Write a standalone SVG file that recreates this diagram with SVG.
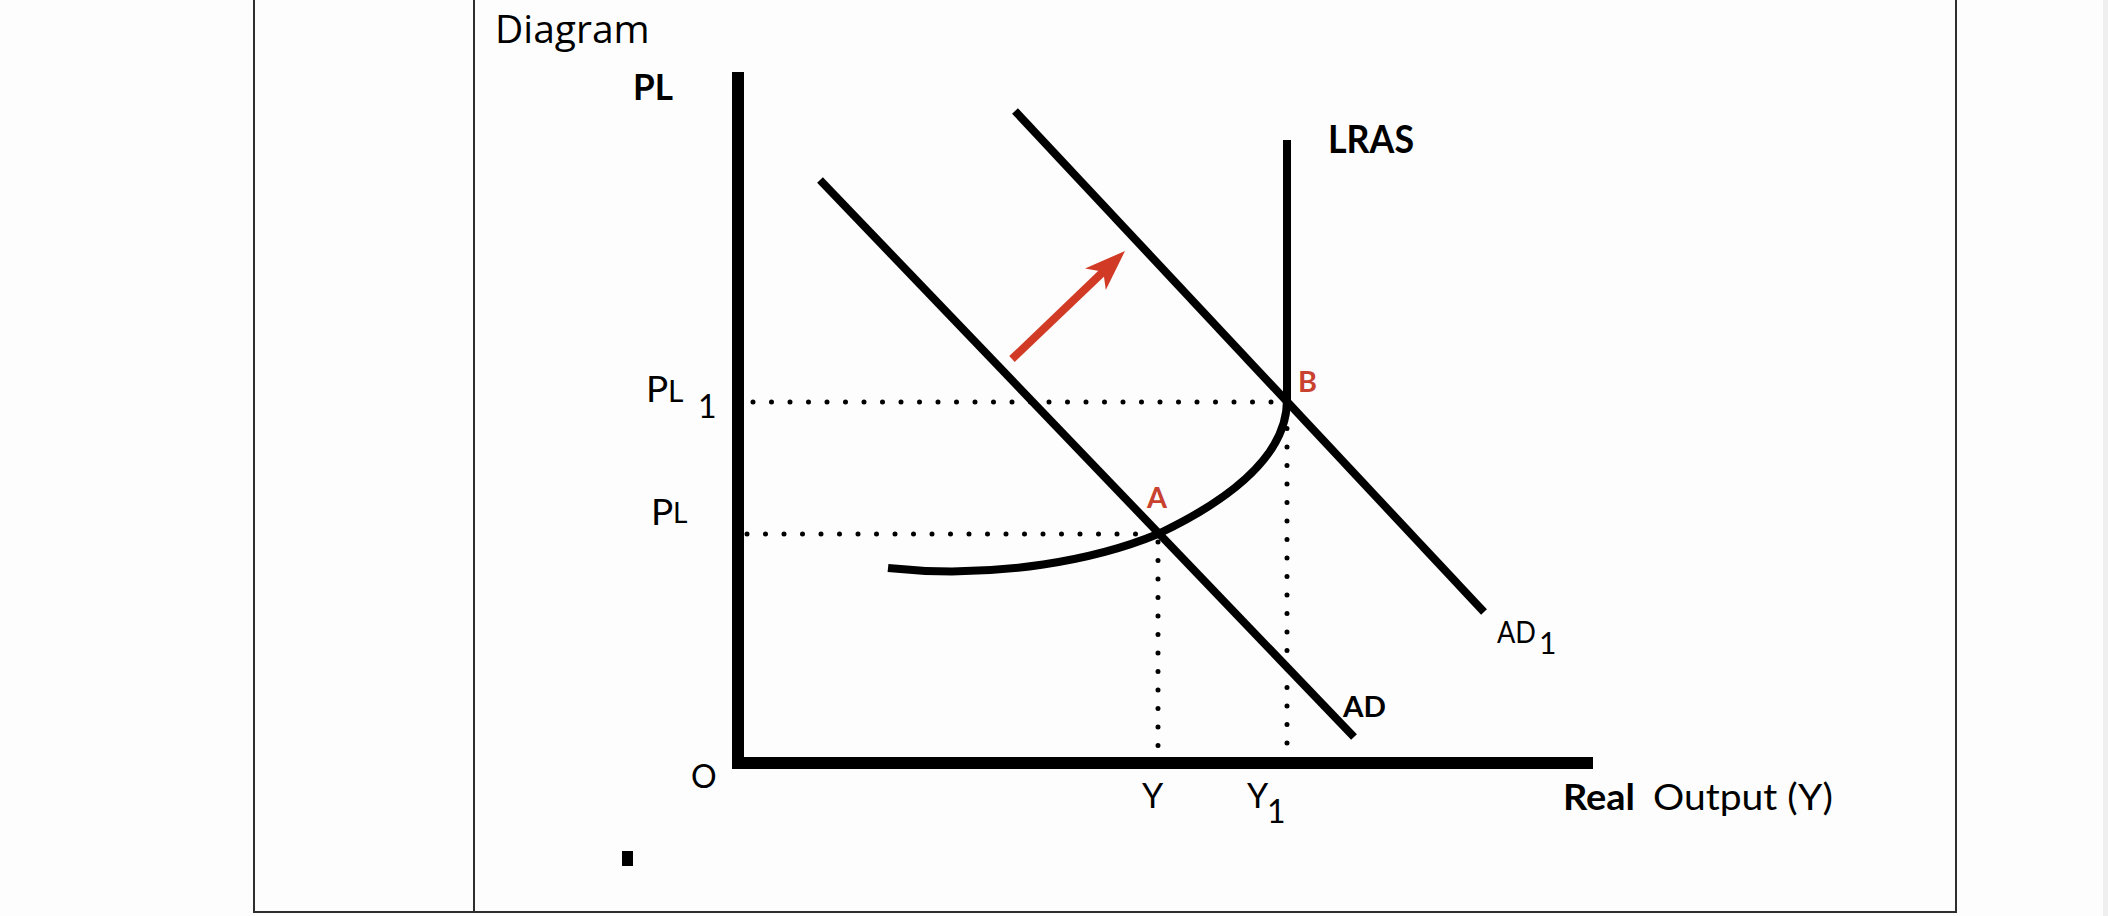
<svg xmlns="http://www.w3.org/2000/svg" width="2108" height="916" viewBox="0 0 2108 916">
<style>
.tbl{stroke:#2e2e2e;stroke-width:2;fill:none}
.crv{stroke:#000;stroke-width:8;fill:none;stroke-linecap:butt}
.axis{stroke:#000;stroke-width:12;fill:none;stroke-linejoin:miter}
.dot{stroke:#000;stroke-width:5;stroke-linecap:round;stroke-dasharray:0 18.5;fill:none}
.lbl{font-family:Lato,"Open Sans",sans-serif;fill:#000}
.b{font-weight:bold}
.red{fill:#c8422f}
</style>
<rect width="2108" height="916" fill="#fdfdfd"/>
<rect x="2103" y="0" width="5" height="916" fill="#efefef"/>
<g id="table" class="tbl">
<line x1="254" y1="0" x2="254" y2="912"/>
<line x1="474" y1="0" x2="474" y2="912"/>
<line x1="1956" y1="0" x2="1956" y2="912"/>
<line x1="253" y1="912" x2="1957" y2="912"/>
</g>
<text id="title" x="495" y="43" font-family="Open Sans, sans-serif" font-size="39" fill="#000">Diagram</text>
<g id="axes">
<path class="axis" d="M738 72 V763 H1593"/>
</g>
<g id="connectors">
<line id="ad" class="crv" x1="820" y1="180" x2="1354" y2="737"/>
<line id="ad1" class="crv" x1="1015" y1="111" x2="1484" y2="612"/>
<path id="as" class="crv" d="M888 568 C1000 580 1100 558 1158 534 C1240 495 1287 450 1287 400 V140"/>
<path class="dot" d="M753 402 H1283"/>
<path class="dot" d="M747 534 H1155"/>
<path class="dot" d="M1158 542 V752"/>
<path class="dot" d="M1287 410 V752"/>
<g id="shift-arrow">
<line x1="1012" y1="359" x2="1104" y2="271" stroke="#d13b26" stroke-width="8"/>
<polygon points="1125,251 1085,268.5 1103.3,271.7 1105.8,290.1" fill="#d13b26"/>
</g>
</g>
<g id="labels">
<text class="lbl b" x="633" y="100" font-size="36" textLength="40" lengthAdjust="spacingAndGlyphs">PL</text>
<text class="lbl b" x="1328" y="153" font-size="39" textLength="86" lengthAdjust="spacingAndGlyphs">LRAS</text>
<text class="lbl b red" x="1147" y="508" font-size="28" textLength="20" lengthAdjust="spacingAndGlyphs">A</text>
<text class="lbl b red" x="1298" y="392" font-size="29" textLength="19" lengthAdjust="spacingAndGlyphs">B</text>
<text class="lbl" x="646" y="402" font-size="37">P</text>
<text class="lbl" x="668" y="402" font-size="30">L</text>
<text class="lbl" x="698" y="418" font-size="32">1</text>
<text class="lbl" x="651" y="525" font-size="37">P</text>
<text class="lbl" x="673" y="523" font-size="28">L</text>
<text class="lbl" x="1497" y="643" font-size="31" textLength="39" lengthAdjust="spacingAndGlyphs">AD</text>
<text class="lbl" x="1539" y="654" font-size="30">1</text>
<text class="lbl b" x="1343" y="717" font-size="29" textLength="43" lengthAdjust="spacingAndGlyphs">AD</text>
<text class="lbl" x="691" y="788" font-size="32">O</text>
<text class="lbl" x="1142" y="808" font-size="34">Y</text>
<text class="lbl" x="1247" y="808" font-size="34">Y</text>
<text class="lbl" x="1267" y="823" font-size="32">1</text>
<text class="lbl b" x="1563" y="810" font-size="37" textLength="72" lengthAdjust="spacingAndGlyphs">Real</text>
<text class="lbl" x="1653" y="810" font-size="37" textLength="180" lengthAdjust="spacingAndGlyphs">Output (Y)</text>
</g>
<rect id="bullet" x="622" y="851" width="11" height="15" fill="#000"/>
</svg>
